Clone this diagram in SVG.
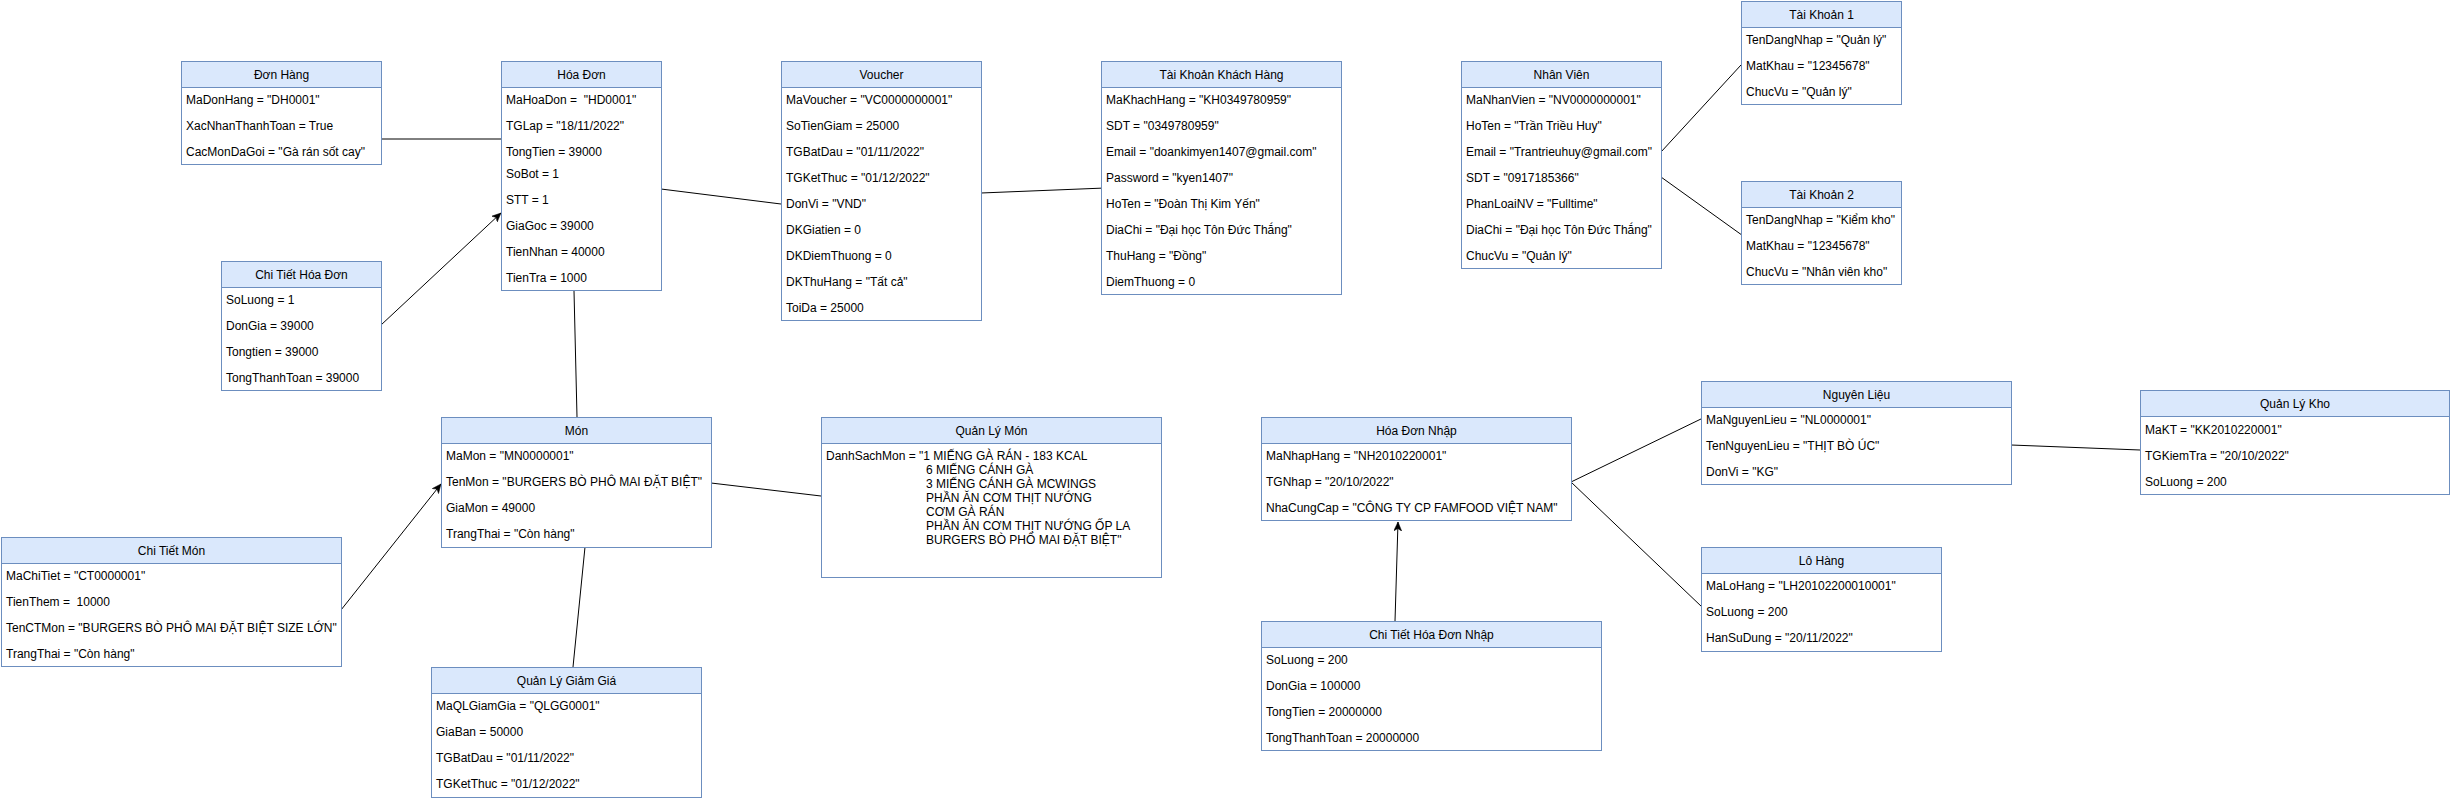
<svg xmlns="http://www.w3.org/2000/svg" width="2451" height="801" viewBox="0 0 2451 801">
<style>
.bd{fill:#ffffff;stroke:#6c8ebf;stroke-width:1}
.hd{fill:#dae8fc;stroke:#6c8ebf;stroke-width:1}
text{font-family:"Liberation Sans",Arial,sans-serif;font-size:12px;fill:#000000}
.tt{text-anchor:middle}
.c{stroke:#000000;stroke-width:1;fill:none}
</style>
<defs>
<marker id="arr" markerUnits="userSpaceOnUse" markerWidth="12" markerHeight="10" refX="9" refY="4" orient="auto" viewBox="0 0 12 10">
<path d="M0,0 L9,4 L0,8 L2.5,4 Z" fill="#000000" stroke="#000000" stroke-width="0.5"/>
</marker>
</defs>
<rect x="0" y="0" width="2451" height="801" fill="#ffffff"/>

<g id="connectors">
<path class="c" d="M379,139 L501,139"/>
<path class="c" d="M381,325 L501,213" marker-end="url(#arr)"/>
<path class="c" d="M661,189 L781,204"/>
<path class="c" d="M981,193 L1105,188"/>
<path class="c" d="M574,291 L577,417"/>
<path class="c" d="M711,483 L821,496"/>
<path class="c" d="M341,610 L441,484" marker-end="url(#arr)"/>
<path class="c" d="M585,547 L573,667"/>
<path class="c" d="M1661,152 L1741,65"/>
<path class="c" d="M1661,177 L1746,238"/>
<path class="c" d="M1395,621 L1398,522" marker-end="url(#arr)"/>
<path class="c" d="M1571,482 L1703,418"/>
<path class="c" d="M1571,482 L1702,607"/>
<path class="c" d="M2011,445 L2140,450"/>
</g>

<g id="don-hang">
<rect class="bd" x="181.5" y="61.5" width="200" height="103"/>
<rect class="hd" x="181.5" y="61.5" width="200" height="26"/>
<text class="tt" x="281.5" y="78.5">Đơn Hàng</text>
<text x="186" y="104">MaDonHang = "DH0001"</text>
<text x="186" y="130">XacNhanThanhToan = True</text>
<text x="186" y="156">CacMonDaGoi = "Gà rán sốt cay"</text>
</g>

<g id="hoa-don">
<rect class="bd" x="501.5" y="61.5" width="160" height="229"/>
<rect class="hd" x="501.5" y="61.5" width="160" height="26"/>
<text class="tt" x="581.5" y="78.5">Hóa Đơn</text>
<text x="506" y="104" xml:space="preserve">MaHoaDon =  "HD0001"</text>
<text x="506" y="130">TGLap = "18/11/2022"</text>
<text x="506" y="156">TongTien = 39000</text>
<text x="506" y="178">SoBot = 1</text>
<text x="506" y="204">STT = 1</text>
<text x="506" y="230">GiaGoc = 39000</text>
<text x="506" y="256">TienNhan = 40000</text>
<text x="506" y="282">TienTra = 1000</text>
</g>

<g id="voucher">
<rect class="bd" x="781.5" y="61.5" width="200" height="259"/>
<rect class="hd" x="781.5" y="61.5" width="200" height="26"/>
<text class="tt" x="881.5" y="78.5">Voucher</text>
<text x="786" y="104">MaVoucher = "VC0000000001"</text>
<text x="786" y="130">SoTienGiam = 25000</text>
<text x="786" y="156">TGBatDau = "01/11/2022"</text>
<text x="786" y="182">TGKetThuc = "01/12/2022"</text>
<text x="786" y="208">DonVi = "VND"</text>
<text x="786" y="234">DKGiatien = 0</text>
<text x="786" y="260">DKDiemThuong = 0</text>
<text x="786" y="286">DKThuHang = "Tất cả"</text>
<text x="786" y="312">ToiDa = 25000</text>
</g>

<g id="tai-khoan-khach-hang">
<rect class="bd" x="1101.5" y="61.5" width="240" height="233"/>
<rect class="hd" x="1101.5" y="61.5" width="240" height="26"/>
<text class="tt" x="1221.5" y="78.5">Tài Khoản Khách Hàng</text>
<text x="1106" y="104">MaKhachHang = "KH0349780959"</text>
<text x="1106" y="130">SDT = "0349780959"</text>
<text x="1106" y="156">Email = "doankimyen1407@gmail.com"</text>
<text x="1106" y="182">Password = "kyen1407"</text>
<text x="1106" y="208">HoTen = "Đoàn Thị Kim Yến"</text>
<text x="1106" y="234">DiaChi = "Đại học Tôn Đức Thắng"</text>
<text x="1106" y="260">ThuHang = "Đồng"</text>
<text x="1106" y="286">DiemThuong = 0</text>
</g>

<g id="nhan-vien">
<rect class="bd" x="1461.5" y="61.5" width="200" height="207"/>
<rect class="hd" x="1461.5" y="61.5" width="200" height="26"/>
<text class="tt" x="1561.5" y="78.5">Nhân Viên</text>
<text x="1466" y="104">MaNhanVien = "NV0000000001"</text>
<text x="1466" y="130">HoTen = "Trần Triều Huy"</text>
<text x="1466" y="156">Email = "Trantrieuhuy@gmail.com"</text>
<text x="1466" y="182">SDT = "0917185366"</text>
<text x="1466" y="208">PhanLoaiNV = "Fulltime"</text>
<text x="1466" y="234">DiaChi = "Đại học Tôn Đức Thắng"</text>
<text x="1466" y="260">ChucVu = "Quản lý"</text>
</g>

<g id="tai-khoan-1">
<rect class="bd" x="1741.5" y="1.5" width="160" height="103"/>
<rect class="hd" x="1741.5" y="1.5" width="160" height="26"/>
<text class="tt" x="1821.5" y="18.5">Tài Khoản 1</text>
<text x="1746" y="44">TenDangNhap = "Quản lý"</text>
<text x="1746" y="70">MatKhau = "12345678"</text>
<text x="1746" y="96">ChucVu = "Quản lý"</text>
</g>

<g id="tai-khoan-2">
<rect class="bd" x="1741.5" y="181.5" width="160" height="103"/>
<rect class="hd" x="1741.5" y="181.5" width="160" height="26"/>
<text class="tt" x="1821.5" y="198.5">Tài Khoản 2</text>
<text x="1746" y="224">TenDangNhap = "Kiểm kho"</text>
<text x="1746" y="250">MatKhau = "12345678"</text>
<text x="1746" y="276">ChucVu = "Nhân viên kho"</text>
</g>

<g id="chi-tiet-hoa-don">
<rect class="bd" x="221.5" y="261.5" width="160" height="129"/>
<rect class="hd" x="221.5" y="261.5" width="160" height="26"/>
<text class="tt" x="301.5" y="278.5">Chi Tiết Hóa Đơn</text>
<text x="226" y="304">SoLuong = 1</text>
<text x="226" y="330">DonGia = 39000</text>
<text x="226" y="356">Tongtien = 39000</text>
<text x="226" y="382">TongThanhToan = 39000</text>
</g>

<g id="mon">
<rect class="bd" x="441.5" y="417.5" width="270" height="130"/>
<rect class="hd" x="441.5" y="417.5" width="270" height="26"/>
<text class="tt" x="576.5" y="434.5">Món</text>
<text x="446" y="460">MaMon = "MN0000001"</text>
<text x="446" y="486">TenMon = "BURGERS BÒ PHÔ MAI ĐẶT BIỆT"</text>
<text x="446" y="512">GiaMon = 49000</text>
<text x="446" y="538">TrangThai = "Còn hàng"</text>
</g>

<g id="quan-ly-mon">
<rect class="bd" x="821.5" y="417.5" width="340" height="160"/>
<rect class="hd" x="821.5" y="417.5" width="340" height="26"/>
<text class="tt" x="991.5" y="434.5">Quản Lý Món</text>
<text x="826" y="460">DanhSachMon = "1 MIẾNG GÀ RÁN - 183 KCAL</text>
<text x="926" y="474">6 MIẾNG CÁNH GÀ</text>
<text x="926" y="488">3 MIẾNG CÁNH GÀ MCWINGS</text>
<text x="926" y="502">PHẦN ĂN CƠM THỊT NƯỚNG</text>
<text x="926" y="516">CƠM GÀ RÁN</text>
<text x="926" y="530">PHẦN ĂN CƠM THỊT NƯỚNG ỐP LA</text>
<text x="926" y="544">BURGERS BÒ PHỐ MAI ĐẶT BIỆT"</text>
</g>

<g id="chi-tiet-mon">
<rect class="bd" x="1.5" y="537.5" width="340" height="129"/>
<rect class="hd" x="1.5" y="537.5" width="340" height="26"/>
<text class="tt" x="171.5" y="554.5">Chi Tiết Món</text>
<text x="6" y="580">MaChiTiet = "CT0000001"</text>
<text x="6" y="606" xml:space="preserve">TienThem =  10000</text>
<text x="6" y="632">TenCTMon = "BURGERS BÒ PHÔ MAI ĐẶT BIỆT SIZE LỚN"</text>
<text x="6" y="658">TrangThai = "Còn hàng"</text>
</g>

<g id="quan-ly-giam-gia">
<rect class="bd" x="431.5" y="667.5" width="270" height="130"/>
<rect class="hd" x="431.5" y="667.5" width="270" height="26"/>
<text class="tt" x="566.5" y="684.5">Quản Lý Giảm Giá</text>
<text x="436" y="710">MaQLGiamGia = "QLGG0001"</text>
<text x="436" y="736">GiaBan = 50000</text>
<text x="436" y="762">TGBatDau = "01/11/2022"</text>
<text x="436" y="788">TGKetThuc = "01/12/2022"</text>
</g>

<g id="hoa-don-nhap">
<rect class="bd" x="1261.5" y="417.5" width="310" height="103"/>
<rect class="hd" x="1261.5" y="417.5" width="310" height="26"/>
<text class="tt" x="1416.5" y="434.5">Hóa Đơn Nhập</text>
<text x="1266" y="460">MaNhapHang = "NH2010220001"</text>
<text x="1266" y="486">TGNhap = "20/10/2022"</text>
<text x="1266" y="512">NhaCungCap = "CÔNG TY CP FAMFOOD VIỆT NAM"</text>
</g>

<g id="chi-tiet-hoa-don-nhap">
<rect class="bd" x="1261.5" y="621.5" width="340" height="129"/>
<rect class="hd" x="1261.5" y="621.5" width="340" height="26"/>
<text class="tt" x="1431.5" y="638.5">Chi Tiết Hóa Đơn Nhập</text>
<text x="1266" y="664">SoLuong = 200</text>
<text x="1266" y="690">DonGia = 100000</text>
<text x="1266" y="716">TongTien = 20000000</text>
<text x="1266" y="742">TongThanhToan = 20000000</text>
</g>

<g id="nguyen-lieu">
<rect class="bd" x="1701.5" y="381.5" width="310" height="103"/>
<rect class="hd" x="1701.5" y="381.5" width="310" height="26"/>
<text class="tt" x="1856.5" y="398.5">Nguyên Liệu</text>
<text x="1706" y="424">MaNguyenLieu = "NL0000001"</text>
<text x="1706" y="450">TenNguyenLieu = "THỊT BÒ ÚC"</text>
<text x="1706" y="476">DonVi = "KG"</text>
</g>

<g id="lo-hang">
<rect class="bd" x="1701.5" y="547.5" width="240" height="104"/>
<rect class="hd" x="1701.5" y="547.5" width="240" height="26"/>
<text class="tt" x="1821.5" y="564.5">Lô Hàng</text>
<text x="1706" y="590">MaLoHang = "LH20102200010001"</text>
<text x="1706" y="616">SoLuong = 200</text>
<text x="1706" y="642">HanSuDung = "20/11/2022"</text>
</g>

<g id="quan-ly-kho">
<rect class="bd" x="2140.5" y="390.5" width="309" height="104"/>
<rect class="hd" x="2140.5" y="390.5" width="309" height="26"/>
<text class="tt" x="2295" y="407.5">Quản Lý Kho</text>
<text x="2145" y="434">MaKT = "KK2010220001"</text>
<text x="2145" y="460">TGKiemTra = "20/10/2022"</text>
<text x="2145" y="486">SoLuong = 200</text>
</g>
</svg>
